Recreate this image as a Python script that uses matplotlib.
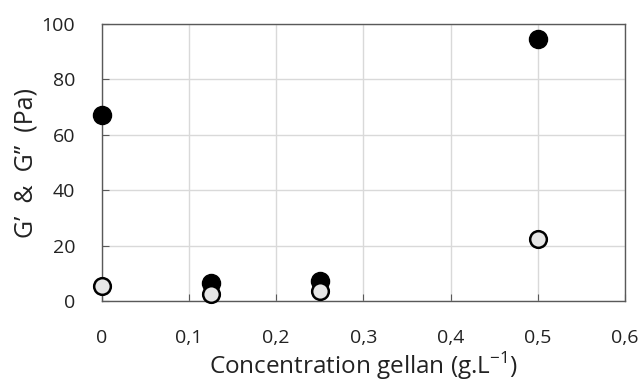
import matplotlib.pyplot as plt
from matplotlib.ticker import FuncFormatter

# données
conc = [0, 0.125, 0.25, 0.5]
g_prime = [67, 6.4, 7.2, 94.6]
g_second = [5.4, 2.6, 3.6, 22.4]

plt.rcParams['font.family'] = ['Open Sans', 'DejaVu Sans']
plt.rcParams['mathtext.fontset'] = 'custom'
plt.rcParams['mathtext.rm'] = 'Open Sans'

fig = plt.figure(figsize=(6.4, 3.83), dpi=100)
ax = fig.add_axes([101.5/640, 1 - 301/383, (625 - 101.5)/640, (301 - 24)/383])

ax.scatter(conc, g_prime, s=13**2, color="black", edgecolor="black", zorder=3, clip_on=False)
ax.scatter(conc, g_second, s=12**2, color="#E6E6E6", edgecolor="black", linewidth=1.8, zorder=4, clip_on=False)

ax.set_xlim(0, 0.6)
ax.set_ylim(0, 100)
ax.set_xticks([0, 0.1, 0.2, 0.3, 0.4, 0.5, 0.6])
ax.set_yticks([0, 20, 40, 60, 80, 100])
ax.xaxis.set_major_formatter(FuncFormatter(lambda v, p: ("%g" % round(v, 1)).replace(".", ",")))
ax.grid(True, color="#D9D9D9", linewidth=1)
ax.set_axisbelow(True)
for s in ax.spines.values():
    s.set_color("#595959")
    s.set_linewidth(1)
ax.tick_params(direction="in", length=5, color="#595959", labelsize=14, labelcolor="#222222")
ax.tick_params(axis="y", pad=19)
ax.tick_params(axis="x", pad=20)

ax.set_ylabel("G’  &  G’’  (Pa)", fontsize=18, labelpad=2, color="#222222")
ax.set_xlabel("Concentration gellan (g.L$^{\\mathrm{-1}}$)", fontsize=17.5, labelpad=2.5, color="#222222")

plt.savefig("out.png", dpi=100)
